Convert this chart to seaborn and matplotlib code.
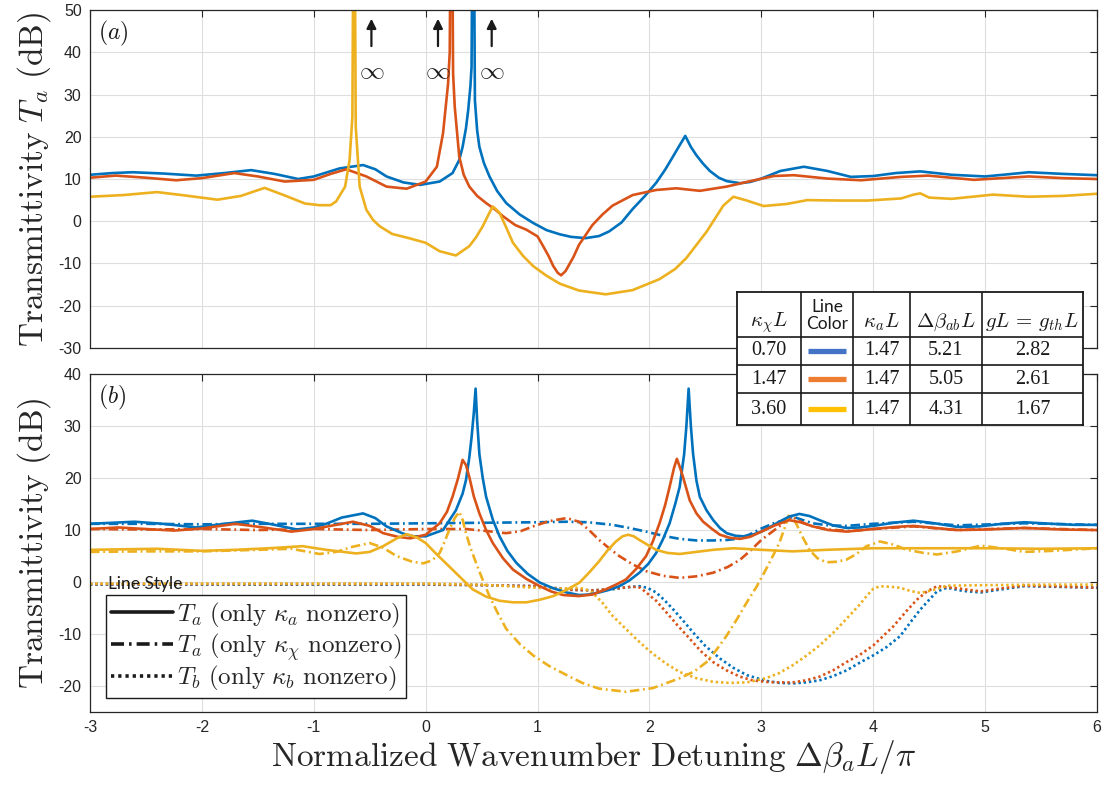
import matplotlib
matplotlib.use("Agg")
import matplotlib.pyplot as plt
import pandas as pd
import seaborn as sns
from matplotlib.lines import Line2D

# ---------------- data ----------------
x_ticks = [-3, -2, -1, 0, 1, 2, 3, 4, 5, 6]
yticks_a = [-30, -20, -10, 0, 10, 20, 30, 40, 50]
yticks_b = [-20, -10, 0, 10, 20, 30, 40]
INF = 100.0  # diverging transmittivity (drawn past the top of the axes)

# panel (a): T_a for the three parameter sets
a_blue = [(-3.0, 11.0), (-2.8, 11.4), (-2.62, 11.6), (-2.35, 11.3), (-2.05, 10.8), (-1.8, 11.4),
          (-1.56, 12.1), (-1.35, 11.2), (-1.14, 10.0), (-1.0, 10.6), (-0.77, 12.5), (-0.56, 13.3),
          (-0.45, 12.3), (-0.35, 10.6), (-0.2, 9.2), (-0.05, 8.6), (0.125, 9.4), (0.24, 11.4),
          (0.3, 14.5), (0.33, 17.6), (0.36, 22.0), (0.38, 26.3), (0.40, 32.0), (0.41, 36.5),
          (0.425, INF), (0.44, 28.6), (0.46, 21.5), (0.48, 17.6), (0.52, 13.8), (0.57, 10.6),
          (0.64, 7.1), (0.72, 4.3), (0.84, 1.6), (0.96, -0.4), (1.08, -2.1), (1.2, -3.1),
          (1.3, -3.7), (1.43, -4.0), (1.55, -3.5), (1.64, -2.4), (1.75, -0.3), (1.85, 2.9),
          (1.96, 6.0), (2.06, 9.1), (2.14, 12.2), (2.21, 15.3), (2.27, 18.0), (2.32, 20.2),
          (2.37, 17.6), (2.42, 15.6), (2.48, 13.6), (2.54, 11.9), (2.62, 10.3), (2.69, 9.5),
          (2.81, 9.0), (2.9, 9.3), (3.0, 10.1), (3.17, 11.9), (3.38, 12.9), (3.59, 11.9),
          (3.8, 10.5), (4.0, 10.7), (4.2, 11.4), (4.42, 11.8), (4.7, 11.0), (5.0, 10.6),
          (5.2, 11.1), (5.39, 11.6), (5.7, 11.2), (6.0, 10.9)]
a_orange = [(-3.0, 10.3), (-2.77, 10.8), (-2.5, 10.3), (-2.23, 9.7), (-2.0, 10.2), (-1.71, 11.4),
            (-1.5, 10.6), (-1.26, 9.4), (-1.0, 9.8), (-0.85, 11.2), (-0.71, 12.3), (-0.53, 10.6),
            (-0.35, 8.2), (-0.17, 7.7), (0.0, 9.4), (0.1, 12.9), (0.155, 20.8), (0.2, 32.5),
            (0.215, 40.0), (0.23, INF), (0.245, 35.0), (0.26, 27.0), (0.3, 15.3), (0.34, 11.0),
            (0.39, 8.2), (0.46, 6.0), (0.54, 4.3), (0.62, 2.8), (0.69, 1.2), (0.8, -0.9),
            (0.9, -2.0), (1.0, -3.6), (1.05, -5.9), (1.1, -8.3), (1.14, -10.6), (1.18, -12.2),
            (1.21, -12.8), (1.25, -11.8), (1.32, -8.5), (1.37, -5.6), (1.49, -0.9), (1.58, 1.6),
            (1.67, 3.7), (1.85, 6.2), (2.06, 7.4), (2.24, 7.8), (2.45, 7.2), (2.69, 8.2),
            (2.87, 9.3), (3.11, 10.7), (3.29, 10.9), (3.59, 10.1), (3.89, 9.7), (4.25, 10.5),
            (4.49, 10.8), (4.9, 9.8), (5.39, 10.6), (5.7, 10.2), (6.0, 10.0)]
a_yellow = [(-3.0, 5.8), (-2.7, 6.2), (-2.4, 6.9), (-2.15, 6.1), (-1.86, 5.1), (-1.65, 6.0),
            (-1.44, 7.9), (-1.25, 6.0), (-1.08, 4.2), (-0.95, 3.8), (-0.85, 3.8), (-0.8, 4.7),
            (-0.72, 8.2), (-0.68, 14.5), (-0.655, 24.7), (-0.64, INF), (-0.625, 22.4), (-0.59, 8.2),
            (-0.53, 2.7), (-0.47, 0.3), (-0.41, -1.2), (-0.3, -3.0), (-0.15, -4.0), (0.0, -5.1),
            (0.125, -7.1), (0.27, -8.1), (0.39, -5.9), (0.45, -3.8), (0.51, -1.2), (0.56, 1.5),
            (0.6, 3.5), (0.63, 2.8), (0.66, 2.0), (0.72, -1.5), (0.78, -5.1), (0.87, -8.2),
            (0.96, -10.6), (1.08, -12.9), (1.2, -14.8), (1.37, -16.4), (1.61, -17.3), (1.85, -16.3),
            (2.09, -13.7), (2.23, -11.3), (2.33, -8.7), (2.42, -5.6), (2.51, -2.5), (2.59, 0.8),
            (2.66, 3.7), (2.75, 5.8), (2.87, 4.9), (3.02, 3.6), (3.23, 4.1), (3.41, 5.0),
            (3.71, 4.9), (3.95, 4.9), (4.25, 5.4), (4.36, 6.3), (4.42, 6.6), (4.5, 5.6),
            (4.7, 5.3), (5.07, 6.3), (5.39, 5.8), (5.7, 6.0), (6.0, 6.5)]

# panel (b): solid = T_a (only kappa_a), dash-dot = T_a (only kappa_chi), dotted = T_b (only kappa_b)
b_blue_a = [(-3.0, 11.2), (-2.8, 11.4), (-2.6, 11.6), (-2.35, 11.2), (-2.05, 10.5), (-1.8, 11.2),
            (-1.55, 11.8), (-1.35, 11.0), (-1.15, 10.1), (-1.0, 10.5), (-0.89, 11.2), (-0.75, 12.4),
            (-0.56, 13.2), (-0.45, 12.3), (-0.35, 10.7), (-0.2, 9.3), (-0.11, 8.8), (0.0, 8.8),
            (0.155, 10.0), (0.27, 13.8), (0.33, 17.0), (0.36, 19.6), (0.39, 24.0), (0.41, 27.8),
            (0.43, 32.5), (0.446, 37.2), (0.46, 31.0), (0.48, 24.6), (0.51, 20.0), (0.54, 16.4),
            (0.6, 12.0), (0.66, 8.8), (0.73, 6.0), (0.81, 3.7), (0.91, 1.6), (1.02, -0.1),
            (1.14, -1.2), (1.26, -2.0), (1.37, -2.5), (1.46, -2.4), (1.55, -2.0), (1.64, -1.5),
            (1.73, -0.8), (1.82, 0.3), (1.91, 1.8), (1.99, 3.5), (2.06, 5.6), (2.12, 8.2),
            (2.18, 11.3), (2.23, 15.0), (2.27, 18.3), (2.31, 24.6), (2.33, 30.0), (2.35, 37.2),
            (2.37, 30.0), (2.39, 24.6), (2.42, 19.5), (2.45, 16.4), (2.51, 13.8), (2.57, 11.9),
            (2.63, 10.4), (2.69, 9.4), (2.77, 8.9), (2.84, 8.8), (2.92, 9.1), (3.0, 9.7),
            (3.08, 10.6), (3.16, 11.6), (3.25, 12.6), (3.34, 13.1), (3.43, 12.7), (3.52, 11.9),
            (3.64, 10.9), (3.76, 10.4), (3.88, 10.5), (4.0, 10.8), (4.18, 11.4), (4.36, 11.8),
            (4.55, 11.3), (4.75, 10.6), (4.95, 10.7), (5.15, 11.2), (5.35, 11.5), (5.6, 11.2),
            (5.8, 11.0), (6.0, 11.0)]
b_orange_a = [(-3.0, 10.2), (-2.75, 10.5), (-2.5, 10.2), (-2.25, 9.9), (-2.0, 10.3), (-1.7, 11.2),
              (-1.45, 10.5), (-1.2, 9.7), (-1.0, 10.2), (-0.85, 10.8), (-0.65, 11.6), (-0.5, 10.8),
              (-0.38, 9.4), (-0.25, 8.7), (-0.14, 8.4), (0.0, 9.1), (0.125, 11.3), (0.19, 13.5),
              (0.24, 16.4), (0.29, 20.0), (0.33, 23.5), (0.36, 22.5), (0.39, 20.2), (0.43, 16.5),
              (0.48, 13.2), (0.54, 10.0), (0.6, 7.5), (0.69, 4.6), (0.78, 2.4), (0.9, 0.6),
              (1.02, -0.8), (1.12, -1.8), (1.23, -2.5), (1.37, -2.7), (1.49, -2.4), (1.61, -1.4),
              (1.7, -0.5), (1.79, 0.5), (1.88, 2.5), (1.97, 5.0), (2.03, 7.8), (2.09, 11.3),
              (2.14, 14.8), (2.18, 18.3), (2.22, 22.0), (2.245, 23.7), (2.27, 22.2), (2.3, 20.2),
              (2.36, 15.7), (2.42, 13.2), (2.48, 11.6), (2.56, 10.2), (2.63, 9.1), (2.72, 8.5),
              (2.81, 8.3), (2.9, 8.7), (3.0, 9.7), (3.12, 10.9), (3.25, 11.9), (3.35, 11.5),
              (3.46, 10.7), (3.6, 10.0), (3.76, 9.7), (4.0, 10.2), (4.2, 10.6), (4.36, 10.8),
              (4.55, 10.4), (4.75, 10.0), (5.0, 10.1), (5.35, 10.4), (5.7, 10.1), (6.0, 10.0)]
b_yellow_a = [(-3.0, 6.2), (-2.7, 6.3), (-2.4, 6.4), (-2.0, 6.0), (-1.7, 6.2), (-1.4, 6.5),
              (-1.1, 6.9), (-0.89, 6.2), (-0.62, 5.5), (-0.5, 5.8), (-0.38, 6.9), (-0.25, 8.5),
              (-0.17, 9.2), (-0.08, 8.6), (0.0, 7.5), (0.1, 5.3), (0.21, 3.0), (0.31, 0.9),
              (0.42, -1.4), (0.54, -2.8), (0.66, -3.6), (0.78, -3.9), (0.9, -3.9), (1.02, -3.4),
              (1.14, -2.7), (1.26, -1.5), (1.375, -0.1), (1.46, 1.8), (1.55, 4.0), (1.63, 6.2),
              (1.7, 7.8), (1.76, 8.8), (1.81, 9.1), (1.86, 8.8), (1.91, 8.1), (1.98, 7.2),
              (2.06, 6.2), (2.16, 5.6), (2.27, 5.4), (2.42, 5.8), (2.57, 6.2), (2.75, 6.5),
              (3.0, 6.2), (3.28, 5.9), (3.58, 6.2), (4.0, 6.5), (4.5, 6.5), (5.0, 6.5),
              (5.5, 6.4), (6.0, 6.5)]
b_blue_chi = [(-3.0, 11.2), (-2.5, 11.2), (-2.0, 11.1), (-1.5, 11.2), (-1.0, 11.2), (-0.5, 11.2),
              (0.0, 11.3), (0.5, 11.4), (1.0, 11.5), (1.26, 11.6), (1.45, 11.5), (1.67, 11.0),
              (1.82, 10.4), (1.97, 9.7), (2.12, 8.9), (2.27, 8.3), (2.42, 8.0), (2.57, 8.0),
              (2.7, 8.1), (2.81, 8.4), (2.9, 9.2), (3.0, 10.3), (3.12, 11.4), (3.22, 11.9),
              (3.28, 12.6), (3.36, 12.0), (3.46, 11.3), (3.6, 10.9), (3.76, 10.8), (4.0, 11.2),
              (4.36, 11.6), (4.75, 10.9), (5.35, 11.3), (6.0, 11.0)]
b_orange_chi = [(-3.0, 10.2), (-2.5, 10.1), (-2.0, 10.2), (-1.5, 10.0), (-1.0, 10.2), (-0.5, 10.0),
                (0.0, 10.2), (0.36, 10.2), (0.55, 9.8), (0.72, 9.4), (0.85, 9.8), (0.96, 10.7),
                (1.1, 11.7), (1.26, 12.3), (1.37, 11.6), (1.46, 10.0), (1.55, 8.1), (1.64, 6.5),
                (1.73, 5.0), (1.85, 3.4), (1.97, 2.1), (2.12, 1.2), (2.27, 0.8), (2.42, 1.1),
                (2.57, 1.8), (2.7, 2.9), (2.81, 4.3), (2.9, 6.0), (3.0, 8.1), (3.08, 9.4),
                (3.16, 10.7), (3.27, 12.6), (3.36, 11.5), (3.46, 10.7), (3.6, 10.1), (3.8, 9.8),
                (4.0, 10.2), (4.36, 10.7), (4.75, 10.0), (5.35, 10.4), (6.0, 10.0)]
b_yellow_chi = [(-3.0, 5.8), (-2.5, 5.9), (-2.0, 5.9), (-1.5, 6.2), (-1.2, 6.4), (-0.95, 5.4),
                (-0.8, 5.8), (-0.65, 6.8), (-0.5, 7.5), (-0.38, 6.6), (-0.26, 5.0), (-0.12, 3.9),
                (-0.02, 3.6), (0.06, 4.2), (0.125, 5.6), (0.17, 7.8), (0.21, 10.0), (0.26, 12.3),
                (0.3, 13.5), (0.33, 12.0), (0.36, 9.4), (0.4, 6.6), (0.45, 3.7), (0.51, 0.4),
                (0.57, -2.7), (0.64, -5.8), (0.72, -9.0), (0.84, -11.9), (0.96, -14.1), (1.1, -16.1),
                (1.26, -17.9), (1.4, -19.4), (1.55, -20.5), (1.79, -21.1), (2.03, -20.4), (2.27, -18.5),
                (2.4, -17.2), (2.51, -15.4), (2.6, -13.0), (2.69, -10.3), (2.78, -7.2), (2.87, -3.9),
                (2.96, -0.8), (3.04, 2.4), (3.1, 4.9), (3.16, 7.5), (3.21, 10.5), (3.25, 13.2),
                (3.31, 11.3), (3.37, 8.6), (3.43, 6.2), (3.5, 4.6), (3.58, 3.8), (3.67, 3.9),
                (3.76, 4.3), (3.85, 5.4), (3.94, 6.9), (4.06, 7.8), (4.18, 7.2), (4.3, 6.2),
                (4.45, 5.6), (4.57, 5.3), (4.75, 5.9), (4.96, 7.0), (5.15, 6.5), (5.35, 5.8),
                (5.6, 6.0), (6.0, 6.5)]
b_blue_b = [(-3.0, -0.5), (-2.0, -0.5), (-1.0, -0.5), (0.0, -0.5), (0.5, -0.6), (1.0, -0.8),
            (1.3, -1.5), (1.5, -1.6), (1.67, -1.4), (1.8, -1.0), (1.91, -0.8), (1.98, -1.1),
            (2.06, -2.0), (2.13, -3.4), (2.21, -5.2), (2.3, -7.4), (2.39, -9.7), (2.5, -12.3),
            (2.63, -14.7), (2.75, -16.5), (2.87, -17.9), (3.04, -19.0), (3.16, -19.4), (3.28, -19.5),
            (3.4, -19.3), (3.52, -18.9), (3.64, -18.1), (3.76, -17.0), (3.88, -15.5), (4.0, -14.1),
            (4.12, -12.5), (4.24, -10.4), (4.33, -7.8), (4.42, -5.3), (4.5, -3.4), (4.57, -1.8),
            (4.66, -1.1), (4.8, -1.7), (4.96, -2.0), (5.15, -1.4), (5.35, -0.8), (5.6, -0.9),
            (6.0, -1.1)]
b_orange_b = [(-3.0, -0.4), (-2.0, -0.4), (-1.0, -0.4), (0.0, -0.4), (0.5, -0.6), (1.0, -0.8),
              (1.3, -1.5), (1.5, -1.6), (1.67, -1.3), (1.85, -0.9), (1.92, -1.1), (1.97, -2.0),
              (2.06, -3.6), (2.15, -5.8), (2.25, -8.3), (2.36, -10.9), (2.46, -13.3), (2.57, -15.4),
              (2.69, -17.0), (2.81, -18.2), (2.92, -18.9), (3.04, -19.2), (3.16, -19.3), (3.28, -19.3),
              (3.4, -18.9), (3.52, -18.2), (3.64, -17.0), (3.76, -15.4), (3.88, -14.0), (4.0, -12.2),
              (4.18, -8.5), (4.3, -5.5), (4.39, -3.4), (4.48, -1.8), (4.57, -0.8), (4.75, -1.2),
              (4.96, -1.8), (5.15, -1.2), (5.35, -0.7), (5.6, -0.8), (6.0, -1.1)]
b_yellow_b = [(-3.0, -0.3), (-2.0, -0.3), (-1.0, -0.3), (0.0, -0.3), (0.5, -0.5), (0.9, -1.0),
              (1.2, -1.3), (1.37, -1.1), (1.43, -1.4), (1.49, -2.0), (1.58, -4.0), (1.67, -6.5),
              (1.76, -8.4), (1.85, -10.3), (1.94, -12.1), (2.03, -13.8), (2.15, -15.7), (2.27, -17.3),
              (2.42, -18.5), (2.57, -19.2), (2.72, -19.4), (2.87, -19.3), (3.04, -18.5), (3.16, -17.5),
              (3.28, -16.0), (3.4, -14.2), (3.52, -12.2), (3.64, -9.8), (3.76, -7.1), (3.88, -4.3),
              (3.94, -2.7), (4.0, -1.3), (4.06, -0.8), (4.15, -0.9), (4.24, -1.1), (4.33, -1.7),
              (4.42, -2.1), (4.54, -1.5), (4.66, -0.7), (5.0, -0.6), (5.5, -0.5), (6.0, -0.5)]

# arrows marking the diverging peaks in (a)
inf_x = [-0.485, 0.11, 0.59]

# parameter table
tbl_header = [r"$\kappa_\chi L$", "Line\nColor", r"$\kappa_a L$", r"$\Delta\beta_{ab} L$", r"$gL\,=\,g_{th} L$"]
tbl_kchi = ["0.70", "1.47", "3.60"]
tbl_ka = ["1.47", "1.47", "1.47"]
tbl_dbeta = ["5.21", "5.05", "4.31"]
tbl_gl = ["2.82", "2.61", "1.67"]
tbl_swatch = ["#4472C4", "#ED7D31", "#FFC000"]

legend_labels = [r"$T_a\ \mathrm{(only}\ \kappa_a\ \mathrm{nonzero)}$",
                 r"$T_a\ \mathrm{(only}\ \kappa_\chi\ \mathrm{nonzero)}$",
                 r"$T_b\ \mathrm{(only}\ \kappa_b\ \mathrm{nonzero)}$"]

# ---------------- styling ----------------
BLUE, ORANGE, YELLOW = "#0072BD", "#D95319", "#EDB120"
DASHDOT = (0, (3.6, 1.4, 0.7, 1.4))
DOTTED = (0, (0.9, 1.1))
INK = "#262626"
LW = 1.9

sns.set_theme(style="whitegrid")
plt.rcParams["font.family"] = ["Liberation Sans", "DejaVu Sans"]
plt.rcParams["mathtext.fontset"] = "cm"
plt.rcParams["axes.unicode_minus"] = False

fig = plt.figure(figsize=(11.07, 7.88), dpi=100)
ax_a = fig.add_axes([0.0813, 0.5584, 0.9097, 0.4289])
ax_b = fig.add_axes([0.0813, 0.0964, 0.9097, 0.4289])


def curve(ax, pts, color, ls="-", lw=LW, z=2):
    df = pd.DataFrame(pts, columns=["x", "y"])
    sns.lineplot(data=df, x="x", y="y", ax=ax, color=color, linestyle=ls, linewidth=lw,
                 estimator=None, sort=False, legend=False, zorder=z)


for pts, c in [(a_blue, BLUE), (a_orange, ORANGE), (a_yellow, YELLOW)]:
    curve(ax_a, pts, c)

for pts, c in [(b_blue_b, BLUE), (b_orange_b, ORANGE), (b_yellow_b, YELLOW)]:
    curve(ax_b, pts, c, DOTTED)
for pts, c in [(b_blue_chi, BLUE), (b_orange_chi, ORANGE), (b_yellow_chi, YELLOW)]:
    curve(ax_b, pts, c, DASHDOT)
for pts, c in [(b_blue_a, BLUE), (b_orange_a, ORANGE), (b_yellow_a, YELLOW)]:
    curve(ax_b, pts, c, "-")

for ax, yl, yt in [(ax_a, (-30, 50), yticks_a), (ax_b, (-25, 40), yticks_b)]:
    ax.set_xlim(-3, 6)
    ax.set_ylim(*yl)
    ax.set_xticks(x_ticks)
    ax.set_yticks(yt)
    ax.set_facecolor("white")
    ax.grid(True, color="#dedede", linewidth=0.8)
    for s in ax.spines.values():
        s.set_color(INK)
        s.set_linewidth(0.9)
        s.set_visible(True)
    ax.tick_params(direction="in", top=True, right=True, length=5, width=0.8,
                   colors=INK, labelsize=11.5, pad=6)
    ax.set_xlabel("")

ax_a.tick_params(labelbottom=False)
ax_b.set_xticklabels([str(v) for v in x_ticks])

ax_a.set_ylabel(r"$\mathrm{Transmittivity}\ T_a\ \mathrm{(dB)}$", fontsize=24, color=INK)
ax_b.set_ylabel(r"$\mathrm{Transmittivity\ (dB)}$", fontsize=24, color=INK)
ax_a.yaxis.set_label_coords(-0.037, 0.5)
ax_b.yaxis.set_label_coords(-0.037, 0.5)
ax_b.set_xlabel(r"$\mathrm{Normalized\ Wavenumber\ Detuning}\ \Delta\beta_a L/\pi$", fontsize=24,
                color=INK, labelpad=2)

ax_a.text(-2.93, 44.4, r"$(a)$", fontsize=17, ha="left", va="center", color="k")
ax_b.text(-2.93, 35.5, r"$(b)$", fontsize=17, ha="left", va="center", color="k")

for xv in inf_x:
    ax_a.annotate("", xy=(xv, 48.6), xytext=(xv, 40.8),
                  arrowprops=dict(arrowstyle="-|>", color="k", lw=1.6, mutation_scale=14))
    ax_a.text(xv, 35.6, r"$\infty$", fontsize=18, ha="center", va="center", color="k")

# legend of line styles
handles = [Line2D([], [], color="k", lw=2.6, linestyle="-"),
           Line2D([], [], color="k", lw=2.6, linestyle=DASHDOT),
           Line2D([], [], color="k", lw=2.6, linestyle=DOTTED)]
leg = ax_b.legend(handles, legend_labels, loc="upper left", bbox_to_anchor=(0.0156, 0.345),
                  borderaxespad=0, frameon=True, fancybox=False, framealpha=1, edgecolor="k",
                  fontsize=18, handlelength=2.5, handletextpad=0.15, borderpad=0.2,
                  labelspacing=0.05)
leg.get_frame().set_linewidth(1.0)
ax_b.text(0.0175, 0.378, "Line Style", transform=ax_b.transAxes, fontsize=12.5,
          family=["Lato", "DejaVu Sans"], ha="left", va="center", color="#1a1a1a", zorder=6)

# parameter table
col_edges = [737.3, 800.7, 853.3, 910.0, 981.7, 1083.3]
row_edges = [291.7, 336.7, 365.0, 393.3, 425.0]
tab = fig.add_axes([col_edges[0] / 1107, 1 - row_edges[-1] / 788,
                    (col_edges[-1] - col_edges[0]) / 1107, (row_edges[-1] - row_edges[0]) / 788])
tab.set_xlim(col_edges[0], col_edges[-1])
tab.set_ylim(row_edges[-1], row_edges[0])
tab.set_facecolor("white")
tab.set_xticks([])
tab.set_yticks([])
tab.grid(False)
for s in tab.spines.values():
    s.set_color("k")
    s.set_linewidth(1.3)
for xe in col_edges[1:-1]:
    tab.axvline(xe, color="k", lw=1.2)
for ye in row_edges[1:-1]:
    tab.axhline(ye, color="k", lw=1.2)

cx = [(col_edges[i] + col_edges[i + 1]) / 2 for i in range(5)]
cy = [(row_edges[i] + row_edges[i + 1]) / 2 for i in range(4)]
for i, h in enumerate(tbl_header):
    if i == 1:
        tab.text(cx[i], cy[0] + 1, h, ha="center", va="center", fontsize=12.5,
                 family=["Lato", "DejaVu Sans"], linespacing=1.05, color="#1a1a1a")
    else:
        tab.text(cx[i], cy[0] + 8, h, ha="center", va="center", fontsize=15, color="#1a1a1a")
for r in range(3):
    y = cy[r + 1]
    for i, val in [(0, tbl_kchi[r]), (2, tbl_ka[r]), (3, tbl_dbeta[r]), (4, tbl_gl[r])]:
        tab.text(cx[i], y, val, ha="center", va="center", fontsize=14.5,
                 family=["Liberation Serif", "DejaVu Serif"], color="#1a1a1a")
    tab.plot([cx[1] - 19, cx[1] + 19], [y, y], color=tbl_swatch[r], lw=3.8, solid_capstyle="butt")

fig.savefig("out.png", dpi=100)
